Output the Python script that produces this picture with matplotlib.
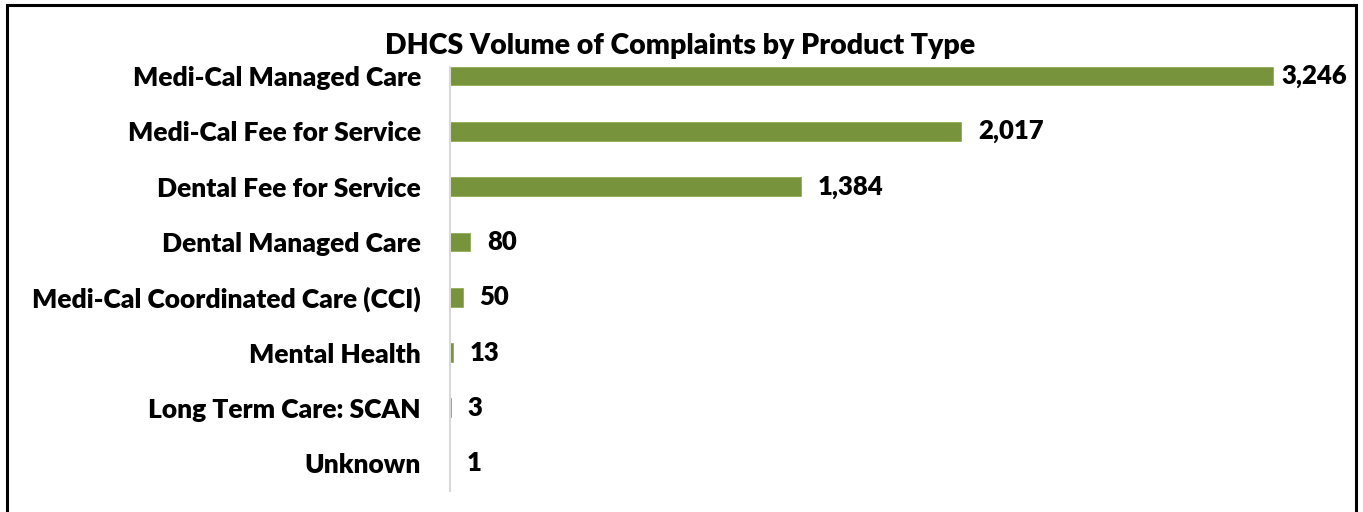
import matplotlib.pyplot as plt
from matplotlib.patches import Rectangle

# data
categories = ["Medi-Cal Managed Care", "Medi-Cal Fee for Service", "Dental Fee for Service",
              "Dental Managed Care", "Medi-Cal Coordinated Care (CCI)", "Mental Health",
              "Long Term Care: SCAN", "Unknown"]
complaints = [3246, 2017, 1384, 80, 50, 13, 3, 1]

plt.rcParams['font.family'] = ['Lato', 'DejaVu Sans']

W, H = 1363, 512
fig = plt.figure(figsize=(W / 100, H / 100), dpi=100)
ax = fig.add_axes([450 / W, 1 - 490.8 / H, (1337 - 450) / W, (490.8 - 48.4) / H])

ypos = list(range(len(categories)))
ax.barh(ypos, complaints, height=0.34, color='#77933C', edgecolor='#8fae52', linewidth=0.6)
ax.set_ylim(len(categories) - 0.5, -0.5)
ax.set_xlim(0, 3500)

ax.set_yticks(ypos)
ax.set_yticklabels(categories, fontsize=19, fontweight='heavy')
ax.tick_params(axis='y', length=0, pad=21)
ax.set_xticks([])
for s in ['top', 'right', 'bottom']:
    ax.spines[s].set_visible(False)
ax.spines['left'].set_color('#d9d9d9')
ax.spines['left'].set_linewidth(1.5)

vmax = max(complaints)
for y, v in zip(ypos, complaints):
    off = 6 if v == vmax else 12
    ax.annotate(f"{v:,}", (v, y), xytext=(off, 0), textcoords='offset points',
                va='center', ha='left', fontsize=18.5, fontweight='heavy')

fig.text(680 / W, 1 - 46 / H, "DHCS Volume of Complaints by Product Type", ha='center', va='center',
         fontsize=20.5, fontweight='heavy', backgroundcolor='white')

# outer frame around the chart
fig.patches.append(Rectangle((7 / W, -0.1), (1356 - 7) / W, 1.1 - 5 / H, transform=fig.transFigure,
                             fill=False, edgecolor='black', linewidth=2.2))

fig.savefig("out.png", dpi=100)
